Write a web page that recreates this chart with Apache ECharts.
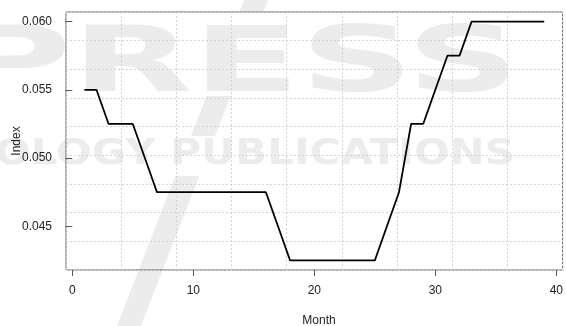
<!DOCTYPE html>
<html>
<head>
<meta charset="utf-8">
<script src="https://cdn.jsdelivr.net/npm/echarts@6/dist/echarts.min.js"></script>
<style>
  html, body { margin: 0; padding: 0; background: #fff; }
  #chart { width: 566px; height: 326px; }
</style>
</head>
<body>
<div id="chart"></div>
<script>
// Monthly index values
const months = [1, 2, 3, 4, 5, 6, 7, 8, 9, 10, 11, 12, 13, 14, 15, 16, 17, 18, 19, 20,
  21, 22, 23, 24, 25, 26, 27, 28, 29, 30, 31, 32, 33, 34, 35, 36, 37, 38, 39];
const indexValues = [0.055, 0.055, 0.0525, 0.0525, 0.0525, 0.050,
  0.0475, 0.0475, 0.0475, 0.0475, 0.0475, 0.0475, 0.0475, 0.0475, 0.0475, 0.0475,
  0.045,
  0.0425, 0.0425, 0.0425, 0.0425, 0.0425, 0.0425, 0.0425, 0.0425,
  0.045, 0.0475, 0.0525, 0.0525, 0.055, 0.0575, 0.0575,
  0.060, 0.060, 0.060, 0.060, 0.060, 0.060, 0.060];
const xTicks = [0, 10, 20, 30, 40];
const yTicks = [0.045, 0.050, 0.055, 0.060];
const xTitle = 'Month';
const yTitle = 'Index';

const FONT = '"Liberation Sans", Arial, sans-serif';
const MARK = '#ececec';

const chart = echarts.init(document.getElementById('chart'), null, { renderer: 'canvas' });

// faint backdrop lettering and diagonal stroke
function stroke(y0, y1) {
  const cx = y => 256 - 0.39 * y;
  return {
    type: 'polygon', z: -10, silent: true,
    shape: { points: [[cx(y0) - 12, y0], [cx(y0) + 12, y0], [cx(y1) + 12, y1], [cx(y1) - 12, y1]] },
    style: { fill: MARK }
  };
}

const option = {
  animation: false,
  backgroundColor: '#ffffff',
  grid: {
    left: 66, top: 12, width: 506, height: 258,
    show: true, borderColor: '#666', borderWidth: 1, backgroundColor: 'transparent',
    containLabel: false
  },
  xAxis: [
    {
      type: 'value', min: -0.52, max: 40.52,
      axisLine: { show: false },
      axisTick: { show: true, customValues: xTicks, length: 6, lineStyle: { color: '#555' } },
      axisLabel: { customValues: xTicks, margin: 15, fontSize: 12, color: '#222', fontFamily: FONT },
      splitLine: { show: false }
    },
    {
      type: 'value', min: 0, max: 9, interval: 1, position: 'bottom',
      axisLine: { show: false }, axisTick: { show: false }, axisLabel: { show: false },
      splitLine: { show: true, lineStyle: { color: '#d3d3d3', type: [2, 2], width: 1 } }
    }
  ],
  yAxis: [
    {
      type: 'value', min: 0.0418, max: 0.0607,
      axisLine: { show: false },
      axisTick: { show: true, customValues: yTicks, length: 7, lineStyle: { color: '#555' } },
      axisLabel: {
        customValues: yTicks, margin: 14, fontSize: 12, color: '#222', fontFamily: FONT,
        formatter: v => v.toFixed(3)
      },
      splitLine: { show: false }
    },
    {
      type: 'value', min: 0, max: 9, interval: 1, position: 'left',
      axisLine: { show: false }, axisTick: { show: false }, axisLabel: { show: false },
      splitLine: { show: true, lineStyle: { color: '#d3d3d3', type: [2, 2], width: 1 } }
    }
  ],
  series: [{
    type: 'line',
    xAxisIndex: 0, yAxisIndex: 0,
    data: months.map((m, i) => [m, indexValues[i]]),
    symbol: 'none',
    lineStyle: { color: '#000', width: 1.8 },
    z: 5
  }],
  graphic: [
    stroke(0, 11), stroke(96, 136), stroke(176, 326),
    {
      type: 'text', z: -10, silent: true, x: 520, y: 68, scaleX: 1.75,
      style: { text: 'PRESS', fill: MARK, font: 'bold 90px "DejaVu Sans"', align: 'right', verticalAlign: 'middle' }
    },
    {
      type: 'text', z: -10, silent: true, x: 515, y: 155, scaleX: 1.2,
      style: { text: 'NOLOGY PUBLICATIONS', fill: MARK, font: 'bold 35px "DejaVu Sans"', align: 'right', verticalAlign: 'middle' }
    },
    {
      type: 'text', x: 319, y: 321,
      style: { text: xTitle, fill: '#222', font: '12px ' + FONT, align: 'center', verticalAlign: 'middle' }
    },
    {
      type: 'text', x: 17, y: 141, rotation: Math.PI / 2,
      style: { text: yTitle, fill: '#222', font: '12px ' + FONT, align: 'center', verticalAlign: 'middle' }
    }
  ]
};

chart.setOption(option);
</script>
</body>
</html>
